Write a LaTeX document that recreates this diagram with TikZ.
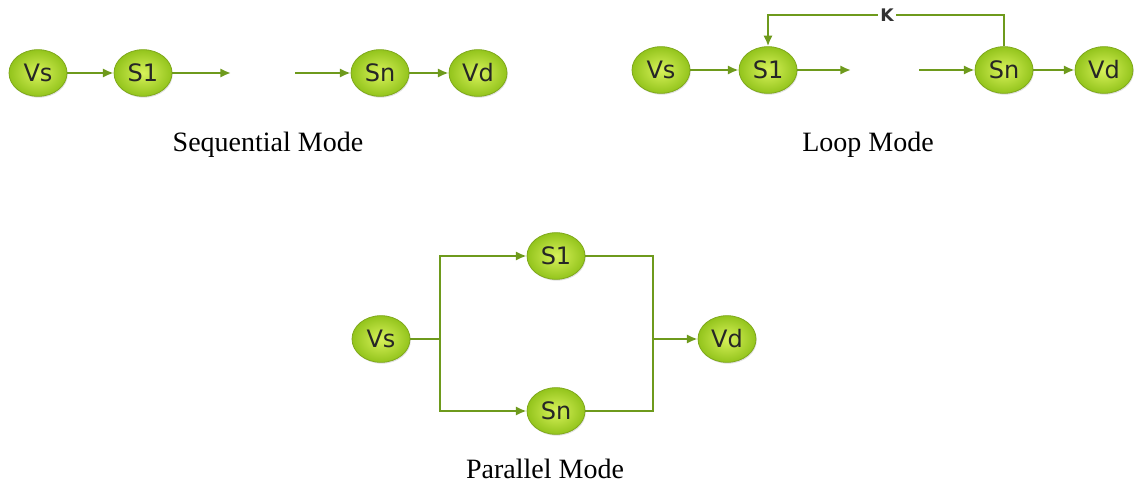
\documentclass[tikz,border=0pt]{standalone}
\usepackage{fontspec}
\setmainfont{Liberation Serif}
\newfontfamily\nodefont{DejaVu Sans}
\usetikzlibrary{arrows.meta,shadows,shapes.geometric}
\definecolor{linkgreen}{HTML}{6E9A1C}
\definecolor{ballin}{HTML}{D8F25A}
\definecolor{ballout}{HTML}{93C41C}
\definecolor{ballrim}{HTML}{7FA81C}
\tikzset{
  ball/.style={ellipse, minimum width=43.5pt, minimum height=35pt, inner sep=0pt,
    draw=ballrim, line width=0.6pt, shading=radial, inner color=ballin, outer color=ballout,
    font=\nodefont\fontsize{18}{18}\selectfont, text=black!85,
    drop shadow={shadow xshift=0.6pt, shadow yshift=-1pt, opacity=0.25}},
  link/.style={draw=linkgreen, line width=1.6pt, -{Latex[length=8pt,width=7pt]}},
  wire/.style={draw=linkgreen, line width=1.6pt},
  caption/.style={font=\fontsize{21}{21}\selectfont}
}
\begin{document}
\begin{tikzpicture}[x=0.75pt,y=-0.75pt]
\useasboundingbox (0,0) rectangle (1137,485);
% sequential mode
\node[ball] (sqvs) at (38,73) {Vs};
\node[ball] (sqs1) at (143,73) {S1};
\coordinate (sqo) at (231,73);
\coordinate (sqi) at (295,73);
\node[ball] (sqsn) at (380,73) {Sn};
\node[ball] (sqvd) at (478,73) {Vd};
\draw[link] (sqvs) -- (sqs1);
\draw[link] (sqs1) -- (sqo);
\draw[link] (sqi) -- (sqsn);
\draw[link] (sqsn) -- (sqvd);
\node[caption] (capseq) at (268,145) {Sequential Mode};
% loop mode
\node[ball] (lpvs) at (661,70) {Vs};
\node[ball] (lps1) at (768,70) {S1};
\coordinate (lpo) at (851,70);
\coordinate (lpi) at (919,70);
\node[ball] (lpsn) at (1004,70) {Sn};
\node[ball] (lpvd) at (1104,70) {Vd};
\draw[link] (lpvs) -- (lps1);
\draw[link] (lps1) -- (lpo);
\draw[link] (lpi) -- (lpsn);
\draw[link] (lpsn) -- (lpvd);
\coordinate (lptop) at (887,15);
\draw[link] (lpsn.north) |- (lptop) -| (lps1.north);
\node[fill=white, inner sep=1.5pt, font=\nodefont\bfseries\fontsize{13}{13}\selectfont, text=black!80] (lpk) at (lptop) {K};
\node[caption] (caplp) at (868,145) {Loop Mode};
% parallel mode
\node[ball] (pvs) at (381,339) {Vs};
\node[ball] (ps1) at (556,256) {S1};
\node[ball] (psn) at (556,411) {Sn};
\node[ball] (pvd) at (727,339) {Vd};
\coordinate (psplit) at (440,339);
\coordinate (pjoin) at (653,339);
\draw[wire] (pvs) -- (psplit);
\draw[link] (psplit) |- (ps1);
\draw[link] (psplit) |- (psn);
\draw[wire] (ps1) -| (pjoin);
\draw[wire] (psn) -| (pjoin);
\draw[link] (pjoin) -- (pvd);
\node[caption] (cappar) at (545,469) {Parallel Mode};
\end{tikzpicture}
\end{document}
